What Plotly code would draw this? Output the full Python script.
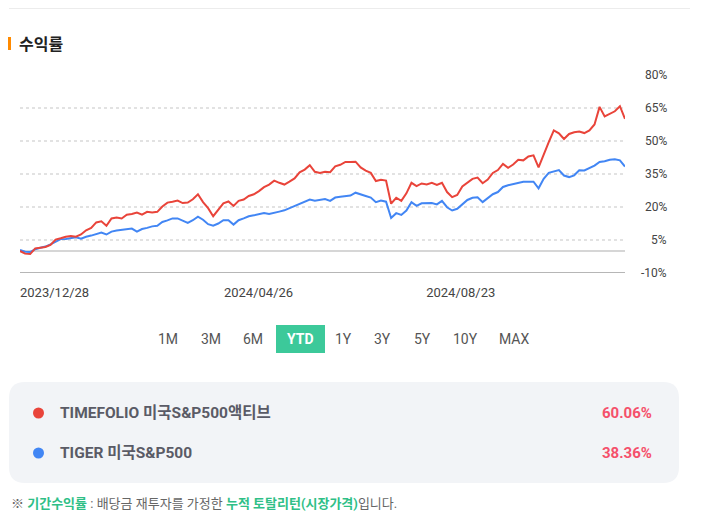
import pandas as pd
import plotly.graph_objects as go

# YTD cumulative return (%)
start_date = "2023-12-28"
end_date = "2024-12-18"

timefolio = [
    0, -1.2, -1.4, 1.2, 1.5, 1.8, 2.8, 5.2, 5.8, 6.5,
    6.8, 6.5, 7.5, 9.4, 10.5, 13, 13.5, 11.5, 14.8, 15.2,
    14.8, 16.5, 16.8, 17.5, 16.5, 17.8, 17.5, 17.8, 20.2, 22,
    22.4, 22.9, 21.8, 22, 23.5, 25.8, 22.2, 19.5, 15.8, 18.8,
    21.7, 22.5, 20.5, 22.8, 23.4, 25, 25.8, 27.2, 29, 30.2,
    32, 31, 30.2, 31.5, 33, 35.8, 37, 39, 36, 35.5,
    36, 35.8, 38.5, 39.2, 40.5, 40.5, 40.6, 38, 36.5, 35.5,
    31.8, 32.4, 32, 21.5, 24.2, 22.8, 26.2, 31, 29.5, 30.7,
    30.2, 31, 30, 31, 26.8, 24.5, 25.5, 29.3, 31, 32.8,
    33.4, 30.8, 32.5, 35.5, 36.8, 39.6, 37.8, 39.3, 41.5, 41.2,
    43, 43.5, 38, 44, 49.5, 54.8, 53.5, 50.9, 53.2, 54,
    54.3, 53.6, 54.8, 57.5, 65.5, 61.2, 62.5, 63.5, 65.8, 60.06,
]
tiger = [
    0.5, -0.3, -0.5, 0.8, 1.5, 2, 3, 4.3, 5.4, 5.5,
    5.8, 6.2, 5.6, 6.5, 7, 7.7, 8.4, 7.5, 8.8, 9.3,
    9.5, 9.8, 10.2, 8.8, 10, 10.5, 11.2, 11.5, 13.2, 13.9,
    14.8, 14.8, 13.8, 12.8, 14, 15.6, 14.2, 12.2, 11.5, 12.5,
    14, 14, 12, 14, 14.8, 15.8, 16.2, 16.8, 17.3, 16.8,
    17.2, 17.9, 18.5, 19.5, 20.5, 21.2, 22.3, 23.4, 22.9, 23.3,
    23.6, 22.8, 24.3, 24.7, 25.1, 25.2, 26.5, 25.6, 25, 24.3,
    22.2, 22.9, 22.4, 15.0, 17.2, 16.4, 18.4, 22.2, 20.5, 21.7,
    21.7, 21.8, 21.2, 22.8, 19.9, 18.4, 19.2, 21.4, 23.2, 24.2,
    24.4, 22.2, 23.9, 25.8, 26.8, 29.1, 29.9, 30.4, 30.8, 31.5,
    31.5, 31.5, 28.5, 32.8, 35.5, 36.2, 36.8, 34.3, 33.6, 34.4,
    36.7, 36.6, 37.6, 38.8, 40.5, 40.8, 41.5, 41.7, 41.2, 38.36,
]
series_names = ["TIMEFOLIO 미국S&P500액티브", "TIGER 미국S&P500"]
series_returns = ["60.06%", "38.36%"]
series_colors = ["#e9443a", "#4286f4"]

x_ticks = ["2023-12-28", "2024-04-26", "2024-08-23"]
y_ticks = [80, 65, 50, 35, 20, 5, -10]
periods = ["1M", "3M", "6M", "YTD", "1Y", "3Y", "5Y", "10Y", "MAX"]
active_period = "YTD"

dates = pd.date_range(start_date, end_date, periods=len(timefolio))

# the page body adds 8px around the figure
OFF = 8
W, H = 688, 507
L, R, T, B = 20, 625, 75, 273  # plot area, in screen pixels

FONT = "Roboto, 'Noto Sans CJK KR', sans-serif"


def px(x):
    return (x - L) / (R - L)


def py(y):
    return (B - y) / (B - T)


fig = go.Figure()
for vals, name, color in [(tiger, series_names[1], series_colors[1]),
                          (timefolio, series_names[0], series_colors[0])]:
    fig.add_trace(go.Scatter(x=dates, y=vals, name=name, mode="lines",
                             line=dict(color=color, width=2), hoverinfo="skip"))

shapes = []
annotations = []

# top separator + section title
shapes.append(dict(type="line", xref="paper", yref="paper", x0=px(9), x1=px(690),
                   y0=py(8.5), y1=py(8.5), line=dict(color="#ececec", width=1)))
shapes.append(dict(type="rect", xref="paper", yref="paper", x0=px(7), x1=px(11),
                   y0=py(37), y1=py(50), fillcolor="#ff8a00", line_width=0))
annotations.append(dict(text="<b>수익률</b>", xref="paper", yref="paper", x=px(17), y=py(44),
                        xanchor="left", yanchor="middle", showarrow=False,
                        font=dict(size=16, color="#222222", family=FONT)))

# zero line and base line
shapes.append(dict(type="line", xref="paper", yref="y", x0=0, x1=1, y0=0, y1=0,
                   line=dict(color="#d6d6d6", width=2), layer="below"))
shapes.append(dict(type="line", xref="paper", yref="y", x0=0, x1=1, y0=-10, y1=-10,
                   line=dict(color="#9e9e9e", width=1.5), layer="below"))

# y tick labels, right aligned
for v in y_ticks:
    annotations.append(dict(text=f"{v}%", xref="paper", yref="y", x=px(669), y=v,
                            xanchor="right", yanchor="middle", showarrow=False,
                            font=dict(size=12, color="#444444", family=FONT)))

# period buttons
btn_x = [168, 211, 253, 300, 343, 382, 422, 465, 514]
for label, bx in zip(periods, btn_x):
    if label == active_period:
        shapes.append(dict(type="rect", xref="paper", yref="paper", x0=px(276), x1=px(325),
                           y0=py(325), y1=py(353), fillcolor="#3cc99a", line_width=0))
        txt, col = f"<b>{label}</b>", "#ffffff"
    else:
        txt, col = label, "#555555"
    annotations.append(dict(text=txt, xref="paper", yref="paper", x=px(bx), y=py(339),
                            xanchor="center", yanchor="middle", showarrow=False,
                            font=dict(size=14, color=col, family=FONT)))

# legend box with rounded corners
x0, x1, y0, y1, r = px(9), px(679), py(382), py(483), 16
rx, ry = r / (R - L), r / (B - T)
path = (f"M {x0 + rx} {y0} L {x1 - rx} {y0} Q {x1} {y0} {x1} {y0 - ry} "
        f"L {x1} {y1 + ry} Q {x1} {y1} {x1 - rx} {y1} L {x0 + rx} {y1} "
        f"Q {x0} {y1} {x0} {y1 + ry} L {x0} {y0 - ry} Q {x0} {y0} {x0 + rx} {y0} Z")
shapes.append(dict(type="path", xref="paper", yref="paper", path=path,
                   fillcolor="#f2f4f7", line_width=0))

for i, (name, ret, color) in enumerate(zip(series_names, series_returns, series_colors)):
    yy = 413 + i * 40
    shapes.append(dict(type="circle", xref="paper", yref="paper",
                       x0=px(33), x1=px(44), y0=py(yy - 5.5), y1=py(yy + 5.5),
                       fillcolor=color, line_width=0))
    annotations.append(dict(text=f"<b>{name}</b>", xref="paper", yref="paper", x=px(58), y=py(yy),
                            xanchor="left", yanchor="middle", showarrow=False,
                            font=dict(size=15.5, color="#5a5b66", family=FONT)))
    annotations.append(dict(text=f"<b>{ret}</b>", xref="paper", yref="paper", x=px(654), y=py(yy),
                            xanchor="right", yanchor="middle", showarrow=False,
                            font=dict(size=15, color="#f5506b", family=FONT)))

# footnote
green = "#2fbf87"
note = (f"※ <b><span style='color:{green}'>기간수익률</span></b> : 배당금 재투자를 가정한 "
        f"<b><span style='color:{green}'>누적 토탈리턴(시장가격)</span></b>입니다.")
annotations.append(dict(text=note, xref="paper", yref="paper", x=px(9), y=py(503),
                        xanchor="left", yanchor="middle", showarrow=False,
                        font=dict(size=13, color="#666666", family=FONT)))

fig.update_layout(
    width=W, height=H,
    margin=dict(l=L - OFF, r=W - (R - OFF), t=T - OFF, b=H - (B - OFF), pad=0),
    paper_bgcolor="white", plot_bgcolor="white",
    showlegend=False,
    font=dict(family=FONT, size=12, color="#444444"),
    shapes=shapes, annotations=annotations,
    xaxis=dict(
        type="date", range=[start_date, end_date],
        tickvals=x_ticks, tickformat="%Y/%m/%d",
        ticklabelposition="outside right", ticks="", ticklabelstandoff=10,
        showgrid=False, zeroline=False, showline=False,
        tickfont=dict(size=13, color="#444444"),
        fixedrange=True,
    ),
    yaxis=dict(
        range=[-10, 80], tickvals=y_ticks, showticklabels=False,
        showgrid=True, gridcolor="#e2e2e2", griddash="dot", gridwidth=1.5,
        zeroline=False, showline=False, fixedrange=True,
    ),
)

fig.write_html("out.html")
